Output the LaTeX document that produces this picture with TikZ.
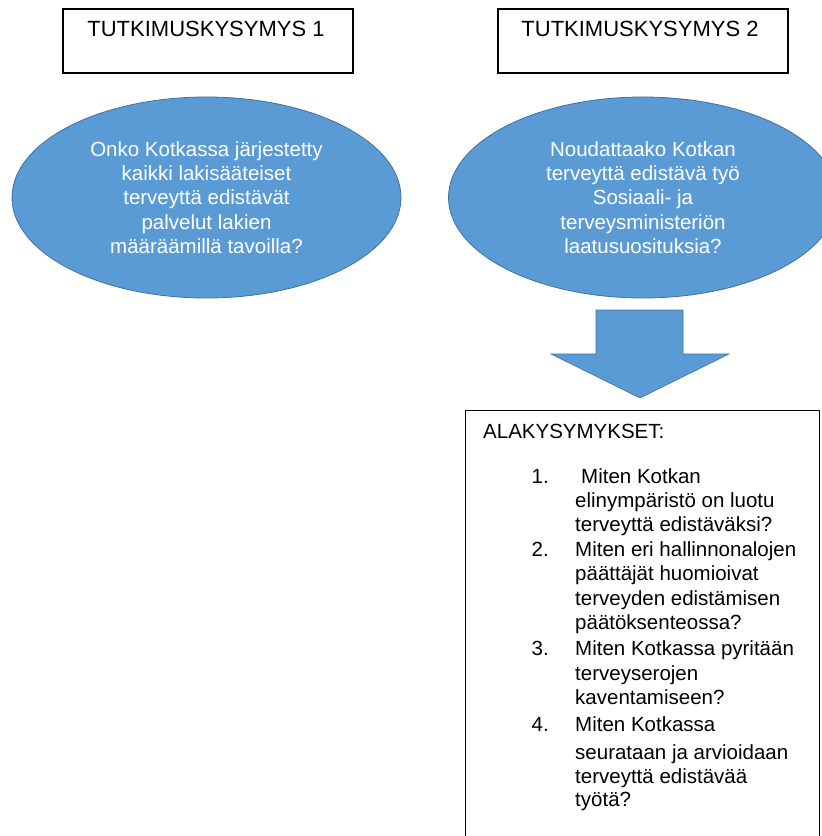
\documentclass[tikz,border=0pt]{standalone}
\usepackage{fontspec}
\setmainfont{Liberation Sans}
\usetikzlibrary{shapes.geometric}
\definecolor{fillblue}{HTML}{5B9BD5}
\definecolor{edgeblue}{HTML}{41719C}
\begin{document}
\begin{tikzpicture}[x=1pt,y=-1pt,
  titlebox/.style={draw=black, line width=1.3pt, minimum width=290pt,
    minimum height=64pt, inner sep=0pt},
  titletext/.style={font=\fontsize{22}{26}\selectfont, inner sep=0pt, anchor=base},
  question/.style={ellipse, fill=fillblue, draw=edgeblue, line width=0.8pt,
    minimum width=389pt, minimum height=201pt, inner sep=0pt, text=white,
    align=center, font=\fontsize{20.5}{24.3}\selectfont},
  subbox/.style={draw=black, line width=1.3pt, minimum width=354pt,
    minimum height=440pt, inner sep=0pt, anchor=north west},
  itemline/.style={font=\fontsize{20.5}{24.3}\selectfont, inner sep=0pt,
    anchor=base west, text=black}]
\useasboundingbox (0,0) rectangle (822,836);
\clip (0,0) rectangle (822,836);

% research question headings
\node[titlebox] (box1) at (208,41) {};
\node[titletext] (title1) at (206,36) {TUTKIMUSKYSYMYS 1};
\node[titlebox] (box2) at (643,41) {};
\node[titletext] (title2) at (640,36) {TUTKIMUSKYSYMYS 2};

% the two main questions
\node[question] (q1) at (206.5,197.5) {Onko Kotkassa järjestetty\\kaikki lakisääteiset\\terveyttä edistävät\\palvelut lakien\\määräämillä tavoilla?};
\node[question] (q2) at (643,197.5) {Noudattaako Kotkan\\terveyttä edistävä työ\\Sosiaali- ja\\terveysministeriön\\laatusuosituksia?};

% block arrow down to the sub-questions
\filldraw[fill=fillblue, draw=edgeblue, line width=0.6pt]
  (596,310) -- (683,310) -- (683,354) -- (729,354) -- (640,398)
  -- (551,354) -- (596,354) -- cycle;

% sub-question box
\node[subbox] (sub) at (465,410) {};
\node[itemline] (subhead) at (483,438) {ALAKYSYMYKSET:};

\foreach \yy/\n in {483/1, 556/2, 655/3, 731/4}
  \node[itemline] (num\n) at (531.5,\yy) {\n.};

\foreach \xx/\yy/\txt [count=\i] in {
    581/483/{Miten Kotkan},
    575/507/{elinympäristö on luotu},
    575/531/{terveyttä edistäväksi?},
    575/556/{Miten eri hallinnonalojen},
    575/580/{päättäjät huomioivat},
    575/605/{terveyden edistämisen},
    575/629/{päätöksenteossa?},
    575/655/{Miten Kotkassa pyritään},
    575/680/{terveyserojen},
    575/704/{kaventamiseen?},
    575/731/{Miten Kotkassa},
    575/759/{seurataan ja arvioidaan},
    575/783/{terveyttä edistävää},
    575/806/{työtä?}}
  \node[itemline] (line\i) at (\xx,\yy) {\txt};
\end{tikzpicture}
\end{document}
